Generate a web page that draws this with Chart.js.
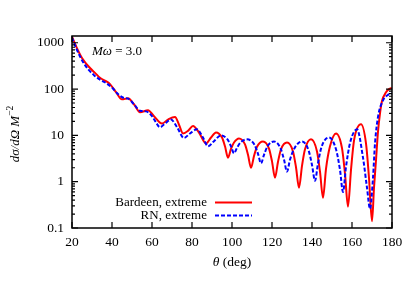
<!DOCTYPE html>
<html>
<head>
<meta charset="utf-8">
<script src="https://cdn.jsdelivr.net/npm/chart.js@4.4.1/dist/chart.umd.min.js"></script>
<style>
  body { margin: 0; background: #fff; }
  #wrap { width: 415px; height: 290px; }
</style>
</head>
<body>
<div id="wrap"><canvas id="chart" width="415" height="290"></canvas></div>
<script>
// values (theta in degrees, cross section in M^2)
const bardeenTheta = [20, 22, 25, 29, 31.5, 34, 37, 39, 42, 45, 48, 51, 54, 58, 61, 65, 68, 71.5, 73.5, 75.5,
  78, 80.5, 83.5, 87, 89.5, 92, 95, 96.5, 98, 99.5, 101, 103.5, 106.5, 108, 109.5, 111, 112.5, 115.5, 118.5, 120,
  121.5, 123, 124.5, 127.5, 130.5, 132, 133.5, 135, 136.5, 139.5, 142.5, 144, 145.5, 147, 149, 152, 155, 156.5, 158,
  159.5, 161, 164.5, 167, 168.5, 170, 171, 172, 173, 174, 175, 177, 178.5, 180];
const bardeenSigma = [1350, 850, 470, 285, 224, 175, 148, 128, 86, 60, 63, 47, 31.6, 35, 26, 18, 22, 25, 17, 11,
  12.5, 16, 11.5, 6.7, 9, 11.6, 9.0, 5.8, 3.3, 5.1, 7.0, 8.6, 6.4, 3.8, 2.0, 3.6, 5.7, 7.4, 5.2, 2.75,
  1.22, 2.7, 5.0, 7.0, 4.5, 2.05, 0.74, 2.2, 5.0, 8.2, 4.5, 1.65, 0.45, 1.9, 5.8, 11, 5.3, 1.48, 0.29,
  1.8, 7.7, 17.4, 6.7, 1.2, 0.14, 0.74, 2.9, 12, 30, 55, 85, 100, 105];

const rnTheta = [20, 22, 25, 28, 31, 34, 37, 40, 43, 46, 48, 51, 54, 57, 60, 62, 64, 66.5, 69.5, 72.5,
  76, 79, 82.5, 85.5, 88, 91, 94.5, 97.75, 99.5, 101, 102.5, 104.25, 107.5, 111.25, 113, 114.5, 116, 117.75, 121, 124.25,
  126, 127.5, 129, 131.25, 135, 138.25, 140, 141.5, 143, 144.75, 148.5, 152, 154, 155.5, 157, 159, 162.5, 165.5, 167.5, 169,
  170.5, 171.5, 173, 175.5, 178, 180];
const rnSigma = [1300, 780, 420, 270, 200, 160, 135, 108, 78, 64, 62, 47, 34, 33, 26, 19, 15, 18, 22, 15,
  8.8, 11, 13.5, 9, 5.8, 7.5, 10, 8.2, 5.8, 4.1, 5.4, 7.0, 8.2, 6.3, 4.0, 2.5, 3.8, 5.8, 7.4, 5.3,
  3.0, 1.65, 3.0, 5.3, 7.4, 4.8, 2.3, 1.05, 2.5, 5.6, 9.0, 5.0, 1.8, 0.6, 2.1, 6.8, 13.5, 3.3, 0.74, 0.26,
  1.22, 6.7, 25, 57, 75, 81];

const seriesNames = ["Bardeen, extreme", "RN, extreme"];
const xTicks = [20, 40, 60, 80, 100, 120, 140, 160, 180];
const yTicks = [0.1, 1, 10, 100, 1000];

const SERIF = "'Liberation Serif', 'DejaVu Serif', serif";

function toPoints(xs, ys) {
  return xs.map((x, i) => ({ x: x, y: ys[i] }));
}

// draws a run of [text, font, dy] pieces starting at x (left aligned)
function drawRuns(ctx, runs, x, y) {
  runs.forEach(r => {
    ctx.font = r[1];
    ctx.fillText(r[0], x, y + (r[2] || 0));
    x += ctx.measureText(r[0]).width;
  });
  return x;
}
function runsWidth(ctx, runs) {
  let w = 0;
  runs.forEach(r => { ctx.font = r[1]; w += ctx.measureText(r[0]).width; });
  return w;
}

const framePlugin = {
  id: "frame",
  afterDraw(chart) {
    const ctx = chart.ctx;
    const a = chart.chartArea;
    const xs = chart.scales.x, ys = chart.scales.y;
    ctx.save();
    ctx.strokeStyle = "#000";
    ctx.lineWidth = 1.5;
    ctx.strokeRect(a.left, a.top, a.right - a.left, a.bottom - a.top);

    // inward ticks, gnuplot style
    ctx.lineWidth = 1.2;
    ctx.beginPath();
    xTicks.forEach(v => {
      const px = xs.getPixelForValue(v);
      ctx.moveTo(px, a.bottom); ctx.lineTo(px, a.bottom - 6);
      ctx.moveTo(px, a.top); ctx.lineTo(px, a.top + 6);
    });
    for (let d = 0.1; d <= 1000; d *= 10) {
      for (let m = 1; m <= 9; m++) {
        const v = d * m;
        if (v > ys.max) continue;
        const py = ys.getPixelForValue(v);
        const len = m === 1 ? 6 : 3;
        ctx.moveTo(a.left, py); ctx.lineTo(a.left + len, py);
        ctx.moveTo(a.right, py); ctx.lineTo(a.right - len, py);
      }
    }
    ctx.stroke();

    ctx.fillStyle = "#000";
    ctx.textBaseline = "middle";
    const ital = "italic 13px " + SERIF;
    const norm = "13px " + SERIF;

    // M omega label
    drawRuns(ctx, [["M\u03C9", ital], [" = 3.0", norm]], 92, 52);

    // x title
    const xRuns = [["\u03B8", "italic 13.5px " + SERIF], [" (deg)", "13.5px " + SERIF]];
    drawRuns(ctx, xRuns, (a.left + a.right) / 2 - runsWidth(ctx, xRuns) / 2, 262);

    // y title, rotated
    ctx.textBaseline = "alphabetic";
    const yRuns = [["d\u03C3/d\u03A9 M", "italic 13px " + SERIF], ["\u22122", "9.5px " + SERIF, -6]];
    ctx.save();
    ctx.translate(19, 134);
    ctx.rotate(-Math.PI / 2);
    drawRuns(ctx, yRuns, -runsWidth(ctx, yRuns) / 2, 0);
    ctx.restore();

    // legend: text right aligned, sample line to the right
    ctx.textBaseline = "middle";
    chart.data.datasets.forEach((ds, i) => {
      const y = 202.5 + i * 13;
      ctx.font = norm;
      ctx.textAlign = "right";
      ctx.fillText(ds.label, 207, y);
      ctx.textAlign = "left";
      ctx.strokeStyle = ds.borderColor;
      ctx.lineWidth = ds.borderWidth;
      ctx.setLineDash(ds.borderDash || []);
      ctx.beginPath();
      ctx.moveTo(215, y); ctx.lineTo(252, y);
      ctx.stroke();
      ctx.setLineDash([]);
    });
    ctx.restore();
  }
};

new Chart(document.getElementById("chart"), {
  type: "line",
  data: {
    datasets: [
      {
        label: seriesNames[0],
        data: toPoints(bardeenTheta, bardeenSigma),
        borderColor: "#ff0000",
        borderWidth: 2,
        pointRadius: 0,
        cubicInterpolationMode: "monotone",
        order: 1
      },
      {
        label: seriesNames[1],
        data: toPoints(rnTheta, rnSigma),
        borderColor: "#0000ff",
        borderWidth: 2,
        borderDash: [4, 2],
        pointRadius: 0,
        cubicInterpolationMode: "monotone",
        order: 0
      }
    ]
  },
  options: {
    responsive: false,
    animation: false,
    layout: { padding: { left: 0, top: 36, right: 23, bottom: 0 } },
    plugins: { legend: { display: false }, tooltip: { enabled: false } },
    scales: {
      x: {
        type: "linear",
        min: 20,
        max: 180,
        grid: { display: false, drawTicks: false },
        border: { display: false },
        afterBuildTicks: s => { s.ticks = xTicks.map(v => ({ value: v })); },
        afterFit: s => { s.height = 62; },
        ticks: {
          color: "#000",
          padding: 6,
          maxRotation: 0,
          font: { family: SERIF, size: 13.5 },
          callback: v => String(v)
        }
      },
      y: {
        type: "logarithmic",
        min: 0.1,
        max: 1400,
        grid: { display: false, drawTicks: false },
        border: { display: false },
        afterBuildTicks: s => { s.ticks = yTicks.map(v => ({ value: v })); },
        afterFit: s => { s.width = 72; },
        ticks: {
          color: "#000",
          padding: 8,
          font: { family: SERIF, size: 13.5 },
          callback: v => String(v)
        }
      }
    }
  },
  plugins: [framePlugin]
});
</script>
</body>
</html>
